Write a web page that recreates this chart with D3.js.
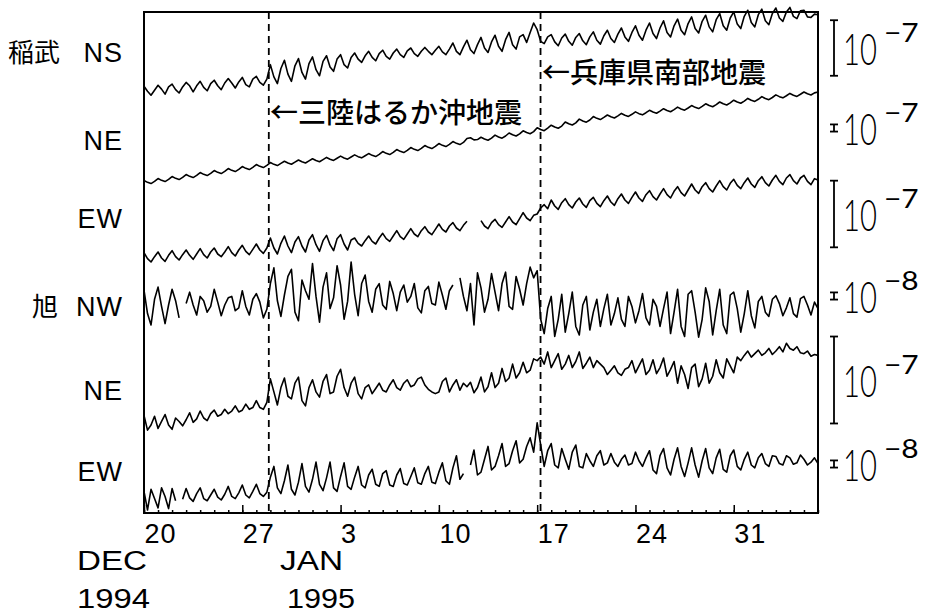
<!DOCTYPE html>
<html><head><meta charset="utf-8">
<script src="https://cdn.jsdelivr.net/npm/d3@7"></script>
<style>
body{margin:0;background:#fff}
svg{display:block}
text{fill:#000}
</style></head><body>
<svg id="chart" width="939" height="614"></svg>
<script>
// Continuous strain records at Inabu (稲武) and Asahi (旭),
// 6-hour samples starting 1994-12-20 00:00 JST. Values in units of 1e-9 strain.
const startDate = new Date(1994, 11, 20);
const sampleHours = 6;

const inabuNS = [
  3,-6,-13,-4, 5,-2,-11,2, 7,-3,-9,2, 10,4,-7,4, 12,1,-5,8, 14,4,-3,9, 17,9,0,11, 19,6,2,16, 21,10,5,16,
  42,20,8,35, 50,25,12,40, 53,28,16,44, 56,33,22,48, 58,38,30,52, 60,42,36,55,
  63,52,46,58, 66,55,49,62, 68,57,52,63, 70,60,55,67, 72,62,57,66, 73,66,60,68, 75,65,60,70,
  81,66,60,74, 86,69,62,78, 91,72,64,83, 95,75,66,87, 100,78,70,92, 96,82,100,117,
  105,84,80,92, 96,83,76,90, 97,84,77,91, 98,85,78,92, 101,86,79,94, 104,89,82,97, 108,92,84,100,
  112,95,86,104, 117,98,89,108, 121,100,92,112, 124,104,96,116, 128,107,99,120, 131,110,101,123,
  134,112,104,126, 137,115,107,129, 140,118,110,132, 142,121,114,134, 144,126,120,137,
  145,129,125,139, 140,128,127,133, 132
];

const inabuNE = [
  20,-5,-22,8, 48,23,6,36, 76,51,34,64, 104,79,62,92, 132,107,90,120, 160,135,118,148,
  188,163,146,176, 216,191,174,204, 244,219,202,232, 272,247,230,260, 290,265,248,278,
  308,283,266,296, 326,301,284,314, 344,319,302,332, 362,337,320,350, 380,355,338,368,
  398,373,356,386, 426,401,384,414, 454,429,412,442, 482,457,440,470, 510,485,468,498,
  538,513,496,526, 566,541,524,554, 610,620,590,594, 626,601,584,614, 656,631,614,644,
  686,661,644,674, 717,692,675,705, 760,735,718,755, 795,770,753,783, 840,815,798,828,
  880,855,838,868, 916,891,874,904, 938,913,896,926, 960,935,918,948, 982,957,940,970,
  1004,979,962,992, 1026,1001,984,1014, 1048,1023,1006,1036, 1070,1045,1028,1058,
  1095,1070,1053,1083, 1120,1095,1078,1108, 1145,1120,1103,1133, 1170,1145,1128,1158,
  1195,1170,1153,1183, 1220,1195,1178,1208, 1240,1215,1198,1228, 1260,1235,1218,1248, 1260
];

const inabuEW = [
  8,-1,-6,2, 9,0,-5,4, 11,2,-3,5, 12,4,-2,6, 14,5,0,9, 15,6,2,9, 17,8,3,12, 19,10,5,13, 21,12,7,15,
  30,15,6,22, 33,18,8,24, 32,18,9,27, 35,20,10,26, 34,20,11,29, 35,21,12,27,
  30,22,18,26, 33,25,21,30, 37,29,25,33, 41,32,28,36, 44,36,32,41, 47,39,35,43, 51,43,39,48,
  53,45,41,49, 55,null,null,null, 56,48,44,53, 58,50,46,54, 62,54,50,59, 68,60,56,64,
  66,75,80,74, 87,78,73,83, 89,80,75,84, 90,81,76,86, 91,82,77,86, 93,84,79,89, 96,87,82,91,
  99,90,85,95, 101,92,87,96, 104,95,90,100, 107,98,93,102, 111,102,97,107, 113,104,99,108,
  116,107,102,112, 118,109,104,113, 120,111,106,116, 122,113,108,117, 124,115,110,120,
  125,116,111,120, 124,115,110,119, 117
];

const asahiNW = [
  21,-12,-28,8, 25,-2,-26,0, 22,6,-18,null, 2,18,0,-14, 12,6,-10,-2, 22,4,-15,0,
  10,12,-8,-4, 20,-2,-14,8, 16,4,-18,-6, 30,52,6,-16, 14,40,50,-10, -22,35,20,8,
  58,12,-24,25, 45,-5,10,55, 28,-20,5,60, 15,-15,30,42, 5,-10,22,30, 0,-6,33,16,
  -8,18,28,4, 12,30,-4,-11, 20,26,2,0, 32,14,-6,20, 28,null,38,12, -8,30,-28,45,
  24,-10,8,44, 18,-8,30,46, -2,-6,40,22, 0,30,53,38, 48,-20,-40,-5, 12,-44,-20,15,
  -38,-12,18,-30, -42,0,12,-35, -10,8,-30,-5, 15,-28,-12,10, -20,-30,12,-2, -25,-8,16,-18,
  -28,8,-2,-30, -5,18,-40,-10, 22,-30,-44,15, 20,-10,-45,-20, 24,5,-42,-8, 22,-28,-40,14,
  18,-5,-38,-12, 20,-15,-32,5, 12,-10,-16,8, 13,2,-15,-4, 10,-12,-17,9, 12,0,-14,4, -5
];

const asahiNE = [
  3,-14,-8,2, -12,-4,4,-8, -13,0,-4,-9, -2,6,-5,-1, 8,0,-3,5, 9,2,4,10, 5,8,14,7,
  9,16,10,12, 20,12,10,18, 45,30,15,35, 46,25,22,40, 47,20,14,35, 44,30,24,42,
  50,28,30,48, 56,35,25,40, 47,28,22,35, 38,28,34,40, 32,30,38,44, 35,32,40,44,
  36,38,45,47, 38,33,30,28, 30,42,46,30, 38,44,32,40, 36,41,29,35, 47,30,36,52,
  35,40,57,42, 46,62,46,52, 64,52,55,68, 66,70,62,76, 58,66,74,56, 62,72,58,65,
  76,57,63,70, 58,66,62,58, 50,55,60,52, 49,56,58,66, 52,60,68,50, 55,67,51,58,
  69,48,56,65, 40,60,50,34, 58,62,36,45, 63,40,48,67, 52,46,68,60, 52,70,66,72,
  77,70,74,78, 72,75,80,73, 77,82,76,86, 80,78,82,75, 74,77,71,73, 72
];

const asahiEW = [
  5,-21,8,-5, -18,10,-2,-19, 9,-8,null,-6, 9,-4,-9,2, 10,-5,-8,0, 8,-3,-7,1,
  12,-2,-5,3, 14,0,-4,5, 15,2,-2,4, 25,40,10,2, 20,42,8,0, 18,44,12,4,
  22,46,15,6, 24,46,10,5, 26,45,12,8, 25,40,14,10, 28,36,15,12, 30,34,14,12,
  28,37,16,14, 26,38,17,15, 30,40,18,16, 32,45,20,15, 38,55,22,30, null,42,63,28,
  32,50,68,35, 40,55,72,40, 44,62,76,45, 50,68,80,60, 101,70,40,62, 72,42,38,65,
  50,36,60,70, 40,38,58,48, 40,55,62,42, 45,58,46,40, 50,56,42,44, 60,48,40,52,
  62,35,30,55, 65,38,28,50, 66,40,26,45, 66,42,25,48, 65,38,30,52, 64,36,32,55,
  63,40,35,50, 60,42,38,52, 58,44,40,55, 54,44,42,55, 52,43,45,56, 50,42,46,52, 44
];

const stationLabels = ["稲武", "", "", "旭", "", ""];
const componentLabels = ["NS", "NE", "EW", "NW", "NE", "EW"];
const scaleBarValues = [100, 100, 100, 10, 100, 10];   // 1e-7 or 1e-8 strain, in 1e-9 units
const scaleBarExponents = ["−7", "−7", "−7", "−8", "−7", "−8"];

const quakes = [
  { name: "三陸はるか沖地震", time: new Date(1994, 11, 28, 21, 19) },
  { name: "兵庫県南部地震", time: new Date(1995, 0, 17, 5, 46) }
];

const weekTicks = [new Date(1994,11,20), new Date(1994,11,27), new Date(1995,0,3),
  new Date(1995,0,10), new Date(1995,0,17), new Date(1995,0,24), new Date(1995,0,31)];

const monthLabels = ["DEC", "JAN"];
const yearLabels = ["1994", "1995"];

// ---- layout ----
const svg = d3.select("#chart");
const plot = { left: 144, right: 818, top: 12, bottom: 513 };

// per-trace vertical placement: zero line (px) and gain (px per 1e-9)
const traceLayout = [
  { zero: 88,  gain: 1 / 1.8,  barMid: 48,  labelY: 62 },
  { zero: 182, gain: 1 / 14,   barMid: 128, labelY: 150 },
  { zero: 258, gain: 1 / 1.5,  barMid: 214, labelY: 228 },
  { zero: 305, gain: 1 / 1.4,  barMid: 296, labelY: 316 },
  { zero: 418, gain: 1 / 1.15, barMid: 380, labelY: 400 },
  { zero: 495, gain: 1 / 1.4,  barMid: 464, labelY: 481 }
];

const series = [inabuNS, inabuNE, inabuEW, asahiNW, asahiNE, asahiEW];

const x = d3.scaleTime().domain([startDate, new Date(1995, 1, 6)]).range([plot.left, plot.right]);
const sampleTime = i => new Date(startDate.getTime() + i * sampleHours * 3600e3);

const latin = "'Liberation Sans', Arial, Helvetica, sans-serif";
const thin = "Lato, 'Open Sans', 'Liberation Sans', sans-serif";
const cjk = "'Noto Sans CJK JP', 'Noto Sans CJK SC', sans-serif";

// frame
svg.append("rect")
  .attr("x", plot.left).attr("y", plot.top)
  .attr("width", plot.right - plot.left).attr("height", plot.bottom - plot.top)
  .attr("fill", "none").attr("stroke", "#000").attr("stroke-width", 2);

// earthquake markers
quakes.forEach(q => {
  svg.append("line")
    .attr("x1", x(q.time)).attr("x2", x(q.time))
    .attr("y1", plot.top).attr("y2", plot.bottom)
    .attr("stroke", "#000").attr("stroke-width", 1.8)
    .attr("stroke-dasharray", "7,5");
});

// traces, scale bars and labels
series.forEach((vals, k) => {
  const L = traceLayout[k];
  const y = d3.scaleLinear().domain([0, 100]).range([L.zero, L.zero - 100 * L.gain]);
  const line = d3.line()
    .defined(d => d != null)
    .x((d, i) => x(sampleTime(i)))
    .y(d => y(d));
  svg.append("path")
    .datum(vals)
    .attr("d", line)
    .attr("fill", "none")
    .attr("stroke", "#000")
    .attr("stroke-width", 1.6)
    .attr("stroke-linejoin", "round");

  const len = Math.abs(y(scaleBarValues[k]) - y(0));
  const bx = 834;
  const g = svg.append("g");
  const y1 = L.barMid - len / 2, y2 = L.barMid + len / 2;
  g.append("line").attr("x1", bx).attr("x2", bx).attr("y1", y1).attr("y2", y2)
    .attr("stroke", "#000").attr("stroke-width", 1.8);
  [y1, y2].forEach(yy => g.append("line").attr("x1", bx - 4).attr("x2", bx + 4)
    .attr("y1", yy).attr("y2", yy).attr("stroke", "#000").attr("stroke-width", 1.8));
  // condensed mantissa and raised exponent
  g.append("g").attr("transform", `translate(843,${L.barMid + 17}) scale(0.68,1)`)
    .append("text").attr("font-family", thin).attr("font-size", 43).attr("font-weight", 300)
    .text("10");
  g.append("g").attr("transform", `translate(884,${L.barMid - 6}) scale(1.15,1)`)
    .append("text").attr("font-family", thin).attr("font-size", 26)
    .text(scaleBarExponents[k]);

  svg.append("text").attr("x", 123).attr("y", L.labelY)
    .attr("text-anchor", "end").attr("font-family", latin).attr("font-size", 27)
    .attr("letter-spacing", 1)
    .text(componentLabels[k]);
});

// station names
svg.append("text").attr("x", 8).attr("y", 62).attr("font-family", cjk).attr("font-size", 26).text(stationLabels[0]);
svg.append("text").attr("x", 32).attr("y", 316).attr("font-family", cjk).attr("font-size", 26).text(stationLabels[3]);

// quake annotations
svg.append("text").attr("x", 270).attr("y", 123).attr("font-family", cjk).attr("font-size", 28)
  .attr("font-weight", 500).text("←" + quakes[0].name);
svg.append("text").attr("x", 542).attr("y", 83).attr("font-family", cjk).attr("font-size", 28)
  .attr("font-weight", 500).text("←" + quakes[1].name);

// time axis: daily minor ticks, weekly major ticks pointing into the plot
const dayAxis = d3.axisBottom(x).ticks(d3.timeDay.every(1)).tickSize(-3).tickFormat("");
svg.append("g").attr("transform", `translate(0,${plot.bottom})`).call(dayAxis)
  .call(g => g.select(".domain").remove())
  .selectAll("line").attr("stroke-width", 1.5);
const weekAxis = d3.axisBottom(x).tickValues(weekTicks).tickSize(-8)
  .tickFormat(d3.timeFormat("%-d"));
const wg = svg.append("g").attr("transform", `translate(0,${plot.bottom})`).call(weekAxis);
wg.select(".domain").remove();
wg.selectAll("line").attr("stroke-width", 1.5);
wg.selectAll("text").attr("text-anchor", "start").attr("y", 30).attr("dy", 0).attr("dx", 0)
  .attr("font-family", latin).attr("font-size", 27).attr("letter-spacing", 1);

// month / year labels
const monthPos = [{ x: 77, w: 70, yx: 77, yw: 73 }, { x: 280, w: 63, yx: 287, yw: 68 }];
monthLabels.forEach((m, k) => {
  const p = monthPos[k];
  svg.append("text").attr("x", p.x).attr("y", 570).attr("font-family", latin)
    .attr("font-size", 27).attr("textLength", p.w).attr("lengthAdjust", "spacingAndGlyphs").text(m);
  svg.append("text").attr("x", p.yx).attr("y", 608).attr("font-family", latin)
    .attr("font-size", 27).attr("textLength", p.yw).attr("lengthAdjust", "spacingAndGlyphs").text(yearLabels[k]);
});
</script>
</body></html>
